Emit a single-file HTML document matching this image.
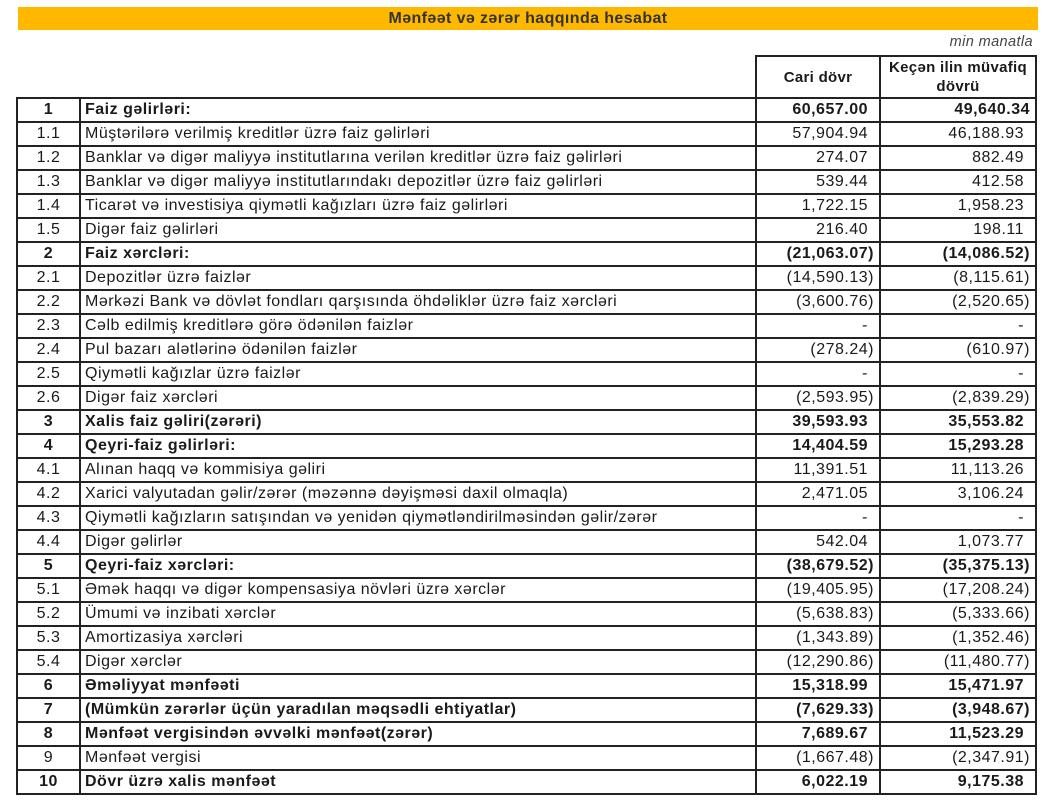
<!DOCTYPE html>
<html><head><meta charset="utf-8"><style>
body{margin:0;width:1059px;height:804px;background:#fff;font-family:"Liberation Sans",Arial,sans-serif;color:#1a1a1a;position:relative;overflow:hidden}
.title{position:absolute;left:18px;top:7px;width:1020px;height:23px;background:#FFB800;text-align:center;font-weight:bold;font-size:16px;letter-spacing:0.4px;line-height:23px;color:#333}
.unit{position:absolute;right:26px;top:34px;font-style:italic;font-size:14.5px;letter-spacing:0.4px;color:#444}
table{position:absolute;left:16px;top:55px;width:1019px;border-collapse:collapse;table-layout:fixed;font-size:16px;letter-spacing:0.5px}
td{border:2px solid #222;height:22px;padding:0 4px;white-space:nowrap;overflow:hidden;line-height:20px}
td.n{text-align:center}
td.v{text-align:right;padding-right:5px}
td.v.p{padding-right:11px}
tr.b td{font-weight:bold}
tr.h td{height:40px;font-weight:bold;text-align:center;line-height:19px;white-space:normal;font-size:15px;letter-spacing:0.3px}
tr.h td.e{border:none;border-bottom:2px solid #222}
</style></head><body>
<div class="title">Mənfəət və zərər haqqında hesabat</div>
<div class="unit">min manatla</div>
<table>
<colgroup><col style="width:63px"><col style="width:676px"><col style="width:124px"><col style="width:156px"></colgroup>
<tr class="h"><td class="e"></td><td class="e"></td><td>Cari dövr</td><td>Keçən ilin müvafiq dövrü</td></tr>
<tr class="b"><td class="n">1</td><td>Faiz gəlirləri:</td><td class="v p">60,657.00</td><td class="v">49,640.34</td></tr>
<tr><td class="n">1.1</td><td>Müştərilərə verilmiş kreditlər üzrə faiz gəlirləri</td><td class="v p">57,904.94</td><td class="v p">46,188.93</td></tr>
<tr><td class="n">1.2</td><td>Banklar və digər maliyyə institutlarına verilən kreditlər üzrə faiz gəlirləri</td><td class="v p">274.07</td><td class="v p">882.49</td></tr>
<tr><td class="n">1.3</td><td>Banklar və digər maliyyə institutlarındakı depozitlər üzrə faiz gəlirləri</td><td class="v p">539.44</td><td class="v p">412.58</td></tr>
<tr><td class="n">1.4</td><td>Ticarət və investisiya qiymətli kağızları üzrə faiz gəlirləri</td><td class="v p">1,722.15</td><td class="v p">1,958.23</td></tr>
<tr><td class="n">1.5</td><td>Digər faiz gəlirləri</td><td class="v p">216.40</td><td class="v p">198.11</td></tr>
<tr class="b"><td class="n">2</td><td>Faiz xərcləri:</td><td class="v">(21,063.07)</td><td class="v">(14,086.52)</td></tr>
<tr><td class="n">2.1</td><td>Depozitlər üzrə faizlər</td><td class="v">(14,590.13)</td><td class="v">(8,115.61)</td></tr>
<tr><td class="n">2.2</td><td>Mərkəzi Bank və dövlət fondları qarşısında öhdəliklər üzrə faiz xərcləri</td><td class="v">(3,600.76)</td><td class="v">(2,520.65)</td></tr>
<tr><td class="n">2.3</td><td>Cəlb edilmiş kreditlərə görə ödənilən faizlər</td><td class="v p">-</td><td class="v p">-</td></tr>
<tr><td class="n">2.4</td><td>Pul bazarı alətlərinə ödənilən faizlər</td><td class="v">(278.24)</td><td class="v">(610.97)</td></tr>
<tr><td class="n">2.5</td><td>Qiymətli kağızlar üzrə faizlər</td><td class="v p">-</td><td class="v p">-</td></tr>
<tr><td class="n">2.6</td><td>Digər faiz xərcləri</td><td class="v">(2,593.95)</td><td class="v">(2,839.29)</td></tr>
<tr class="b"><td class="n">3</td><td>Xalis faiz gəliri(zərəri)</td><td class="v p">39,593.93</td><td class="v p">35,553.82</td></tr>
<tr class="b"><td class="n">4</td><td>Qeyri-faiz gəlirləri:</td><td class="v p">14,404.59</td><td class="v p">15,293.28</td></tr>
<tr><td class="n">4.1</td><td>Alınan haqq və kommisiya gəliri</td><td class="v p">11,391.51</td><td class="v p">11,113.26</td></tr>
<tr><td class="n">4.2</td><td>Xarici valyutadan gəlir/zərər (məzənnə dəyişməsi daxil olmaqla)</td><td class="v p">2,471.05</td><td class="v p">3,106.24</td></tr>
<tr><td class="n">4.3</td><td>Qiymətli kağızların satışından və yenidən qiymətləndirilməsindən gəlir/zərər</td><td class="v p">-</td><td class="v p">-</td></tr>
<tr><td class="n">4.4</td><td>Digər gəlirlər</td><td class="v p">542.04</td><td class="v p">1,073.77</td></tr>
<tr class="b"><td class="n">5</td><td>Qeyri-faiz xərcləri:</td><td class="v">(38,679.52)</td><td class="v">(35,375.13)</td></tr>
<tr><td class="n">5.1</td><td>Əmək haqqı və digər kompensasiya növləri üzrə xərclər</td><td class="v">(19,405.95)</td><td class="v">(17,208.24)</td></tr>
<tr><td class="n">5.2</td><td>Ümumi və inzibati xərclər</td><td class="v">(5,638.83)</td><td class="v">(5,333.66)</td></tr>
<tr><td class="n">5.3</td><td>Amortizasiya xərcləri</td><td class="v">(1,343.89)</td><td class="v">(1,352.46)</td></tr>
<tr><td class="n">5.4</td><td>Digər xərclər</td><td class="v">(12,290.86)</td><td class="v">(11,480.77)</td></tr>
<tr class="b"><td class="n">6</td><td>Əməliyyat mənfəəti</td><td class="v p">15,318.99</td><td class="v p">15,471.97</td></tr>
<tr class="b"><td class="n">7</td><td>(Mümkün zərərlər üçün yaradılan məqsədli ehtiyatlar)</td><td class="v">(7,629.33)</td><td class="v">(3,948.67)</td></tr>
<tr class="b"><td class="n">8</td><td>Mənfəət vergisindən əvvəlki mənfəət(zərər)</td><td class="v p">7,689.67</td><td class="v p">11,523.29</td></tr>
<tr><td class="n">9</td><td>Mənfəət vergisi</td><td class="v">(1,667.48)</td><td class="v">(2,347.91)</td></tr>
<tr class="b"><td class="n">10</td><td>Dövr üzrə xalis mənfəət</td><td class="v p">6,022.19</td><td class="v p">9,175.38</td></tr>
</table>
</body></html>
